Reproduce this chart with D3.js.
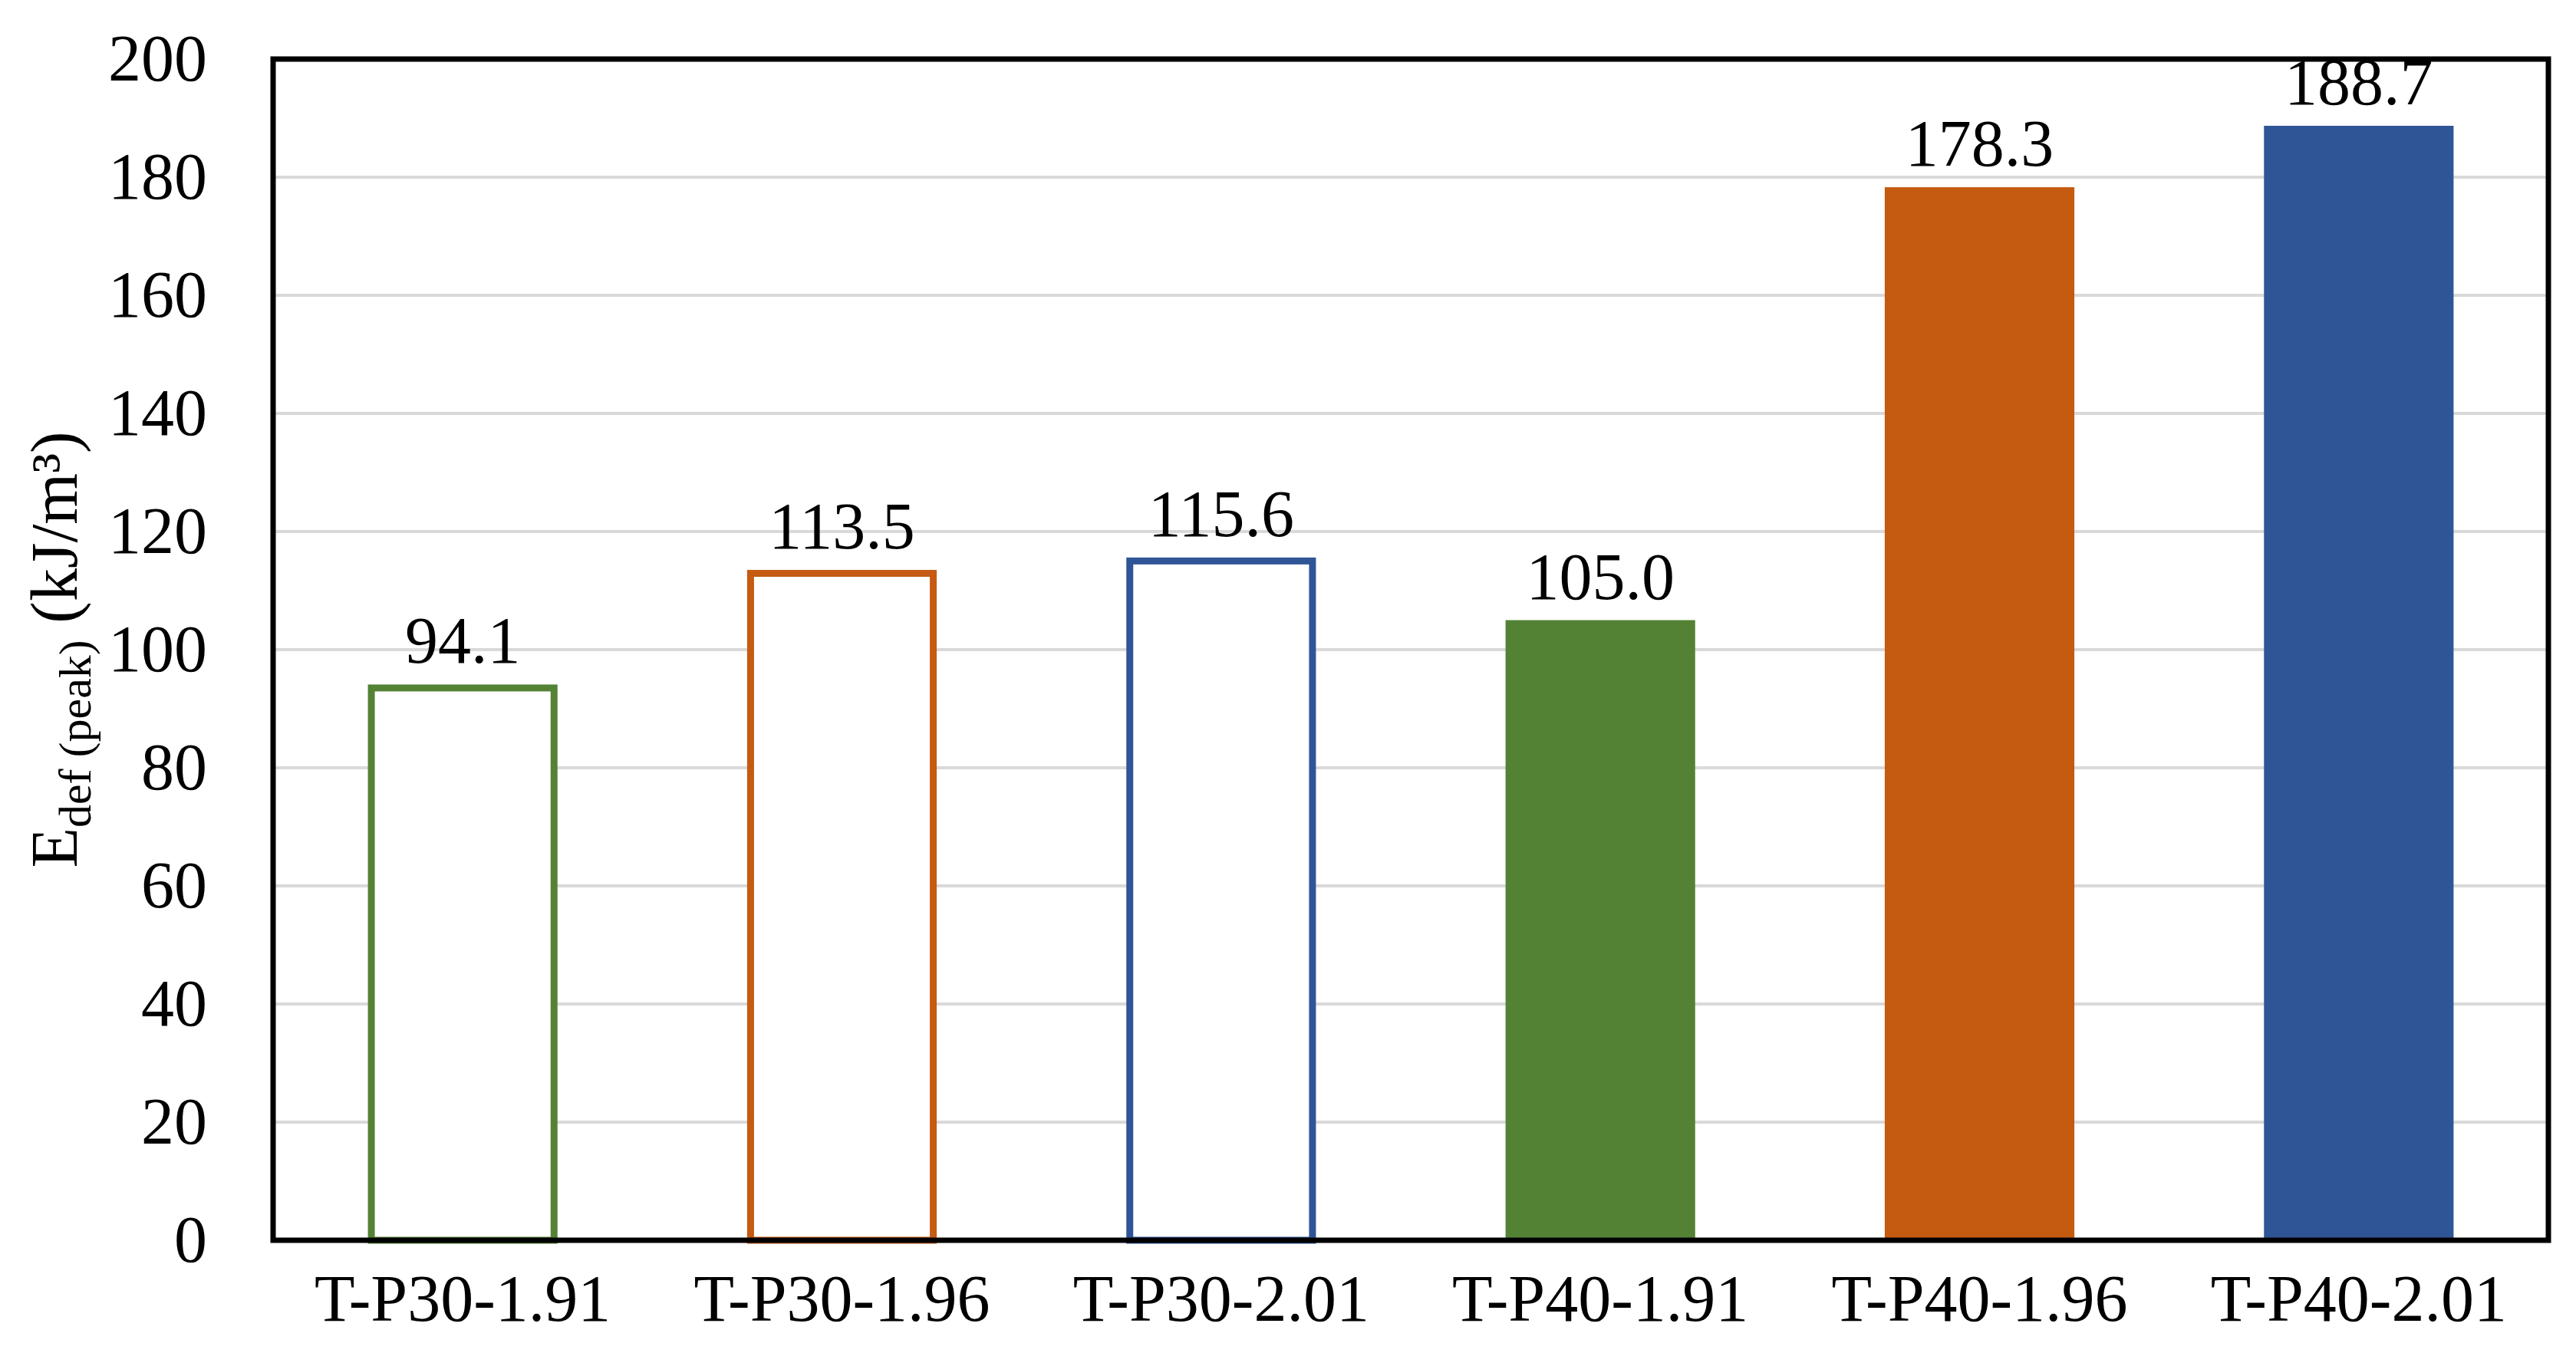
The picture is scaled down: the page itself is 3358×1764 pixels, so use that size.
<!DOCTYPE html><html><head><meta charset="utf-8">
<script src="https://cdn.jsdelivr.net/npm/d3@7"></script>
<style>body{margin:0;background:#fff}</style></head><body><svg id="c" width="3358" height="1764"></svg>
<script>
const categories=["T-P30-1.91","T-P30-1.96","T-P30-2.01","T-P40-1.91","T-P40-1.96","T-P40-2.01"];
const values=[94.1,113.5,115.6,105.0,178.3,188.7];
const colors=["#548235","#c55a11","#2f5597","#548235","#c55a11","#2f5597"];
const filled=[false,false,false,true,true,true];
const yTicks=[0,20,40,60,80,100,120,140,160,180,200];
const L=356,R=3322,T=77,B=1617,F="Liberation Serif, Times New Roman, serif";
const svg=d3.select("#c");
const x=d3.scaleBand().domain(categories).range([L,R]).paddingInner(0.5).paddingOuter(0.25);
const y=d3.scaleLinear().domain([0,200]).range([B,T]);
svg.append("g").selectAll("line").data(yTicks.slice(1)).join("line")
 .attr("x1",L).attr("x2",R).attr("y1",d=>y(d)).attr("y2",d=>y(d)).attr("stroke","#d9d9d9").attr("stroke-width",4);
const sw=9;
svg.append("g").selectAll("rect").data(values).join("rect")
 .attr("x",(d,i)=>x(categories[i])+(filled[i]?0:sw/2)).attr("width",(d,i)=>x.bandwidth()-(filled[i]?0:sw))
 .attr("y",(d,i)=>y(d)+(filled[i]?0:sw/2)).attr("height",(d,i)=>B-y(d)-(filled[i]?0:sw/2))
 .attr("fill",(d,i)=>filled[i]?colors[i]:"#fff").attr("stroke",(d,i)=>filled[i]?"none":colors[i]).attr("stroke-width",sw);
svg.append("rect").attr("x",L).attr("y",T).attr("width",R-L).attr("height",B-T).attr("fill","none").attr("stroke","#000").attr("stroke-width",7);
svg.append("g").selectAll("text").data(values).join("text")
 .attr("x",(d,i)=>x(categories[i])+x.bandwidth()/2).attr("y",d=>y(d)-28).attr("text-anchor","middle")
 .attr("font-family",F).attr("font-size",86).text(d=>d.toFixed(1));
const ya=d3.axisLeft(y).tickValues(yTicks).tickSize(0).tickPadding(86);
const g=svg.append("g").attr("transform",`translate(${L},0)`).call(ya);
g.select(".domain").remove();
g.selectAll("text").attr("font-family",F).attr("font-size",86).attr("fill","#000");
const xa=d3.axisBottom(x).tickSize(0).tickPadding(40);
const gx=svg.append("g").attr("transform",`translate(0,${B})`).call(xa);
gx.select(".domain").remove();
gx.selectAll("text").attr("font-family",F).attr("font-size",86).attr("fill","#000").attr("dy","0.75em");
const t=svg.append("text").attr("transform",`translate(100,${(T+B)/2}) rotate(-90)`).attr("text-anchor","middle")
 .attr("font-family",F).attr("font-size",86);
t.append("tspan").text("E");
t.append("tspan").attr("font-size",60).attr("dy",18).text("def (peak)");
t.append("tspan").attr("dy",-18).text(" (kJ/m³)");
</script></body></html>
